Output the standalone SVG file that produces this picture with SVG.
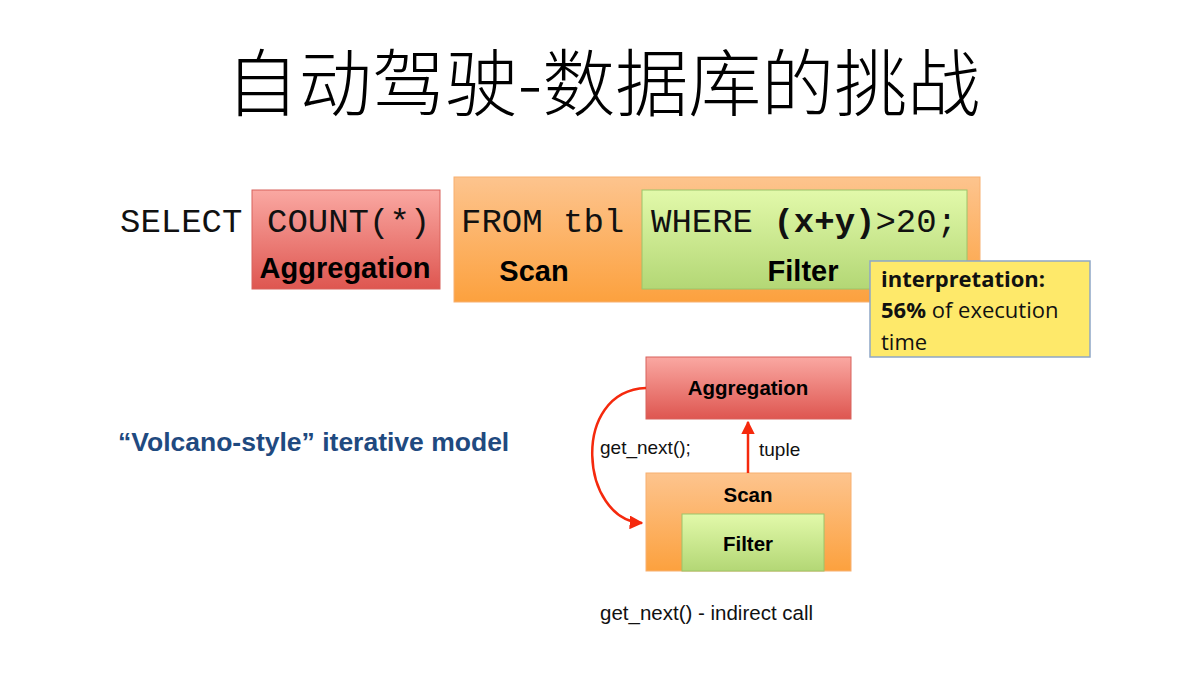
<svg xmlns="http://www.w3.org/2000/svg" width="1200" height="675" viewBox="0 0 1200 675">
<defs>
<linearGradient id="gRed" x1="0" y1="0" x2="0" y2="1"><stop offset="0" stop-color="#faa8a2"/><stop offset="1" stop-color="#de5650"/></linearGradient>
<linearGradient id="gOrange" x1="0" y1="0" x2="0" y2="1"><stop offset="0" stop-color="#fdc48e"/><stop offset="1" stop-color="#fca13e"/></linearGradient>
<linearGradient id="gGreen" x1="0" y1="0" x2="0" y2="1"><stop offset="0" stop-color="#e2f9aa"/><stop offset="1" stop-color="#b3d775"/></linearGradient>
<marker id="arr" viewBox="0 0 10 10" refX="9" refY="5" markerWidth="5.5" markerHeight="5.5" orient="auto"><path d="M0,0 L10,5 L0,10 z" fill="#f5290d"/></marker>
<style>
.mono{font-family:"Liberation Mono","DejaVu Sans Mono",monospace;font-size:34px;fill:#111}
.lbl{font-family:"Liberation Sans",Arial,sans-serif;font-weight:bold;fill:#000}
.sm{font-family:"Liberation Sans",Arial,sans-serif;fill:#111}
.note{font-family:"Open Sans","Noto Sans",sans-serif;font-size:22px;fill:#111}
.red{fill:url(#gRed);stroke:#d8625c;stroke-width:1}
.org{fill:url(#gOrange);stroke:#f8b070;stroke-width:1}
.grn{fill:url(#gGreen);stroke:#9cc46a;stroke-width:1}
.conn{fill:none;stroke:#f5290d;stroke-width:2.5}
</style>
</defs>
<rect width="1200" height="675" fill="#fff"/>
<text x="603" y="110" text-anchor="middle" font-family="'Noto Sans CJK SC','Noto Sans CJK JP',serif" font-weight="300" font-size="73" fill="#000">自动驾驶-数据库的挑战</text>

<g id="sql">
<text class="mono" x="120" y="232">SELECT</text>
<g id="agg-top">
<rect class="red" x="252" y="190" width="188" height="99"/>
<text class="mono" x="267" y="232">COUNT(*)</text>
<text class="lbl" x="345" y="278" font-size="29" text-anchor="middle">Aggregation</text>
</g>
<g id="scan-top">
<rect class="org" x="454" y="177" width="526" height="125"/>
<text class="mono" x="461" y="232">FROM tbl</text>
<text class="lbl" x="534" y="281" font-size="29" text-anchor="middle">Scan</text>
</g>
<g id="filter-top">
<rect class="grn" x="642" y="190" width="325" height="99"/>
<text class="mono" x="651" y="232">WHERE <tspan font-weight="bold">(x+y)</tspan>&gt;20;</text>
<text class="lbl" x="803" y="281" font-size="29" text-anchor="middle">Filter</text>
</g>
</g>

<g id="note">
<rect x="870" y="261" width="220" height="96" fill="#fee96a" stroke="#8ea6c6" stroke-width="1.5"/>
<text class="note" x="881" y="287" font-weight="bold">interpretation:</text>
<text class="note" x="881" y="318"><tspan font-weight="bold">56%</tspan> of execution</text>
<text class="note" x="881" y="350">time</text>
</g>

<text x="118" y="451" font-family="'Liberation Sans',Arial,sans-serif" font-weight="bold" font-size="26.5" fill="#1f4a80">“Volcano-style” iterative model</text>

<g id="agg">
<rect class="red" x="646" y="357" width="205" height="62"/>
<text class="lbl" x="748" y="395" font-size="20.5" text-anchor="middle">Aggregation</text>
</g>
<g id="scan">
<rect class="org" x="646" y="473" width="205" height="98"/>
<text class="lbl" x="748" y="502" font-size="20.5" text-anchor="middle">Scan</text>
</g>
<g id="filter">
<rect class="grn" x="682" y="514" width="142" height="57"/>
<text class="lbl" x="748" y="551" font-size="20.5" text-anchor="middle">Filter</text>
</g>

<g id="connectors">
<path class="conn" d="M646,388 C570,391 580,520 642,523" marker-end="url(#arr)"/>
<path class="conn" d="M748,473 L748,422" marker-end="url(#arr)"/>
<text class="sm" x="600" y="454" font-size="19">get_next();</text>
<text class="sm" x="759" y="456" font-size="19">tuple</text>
</g>

<text class="sm" x="600" y="620" font-size="20.5">get_next() - indirect call</text>
</svg>
